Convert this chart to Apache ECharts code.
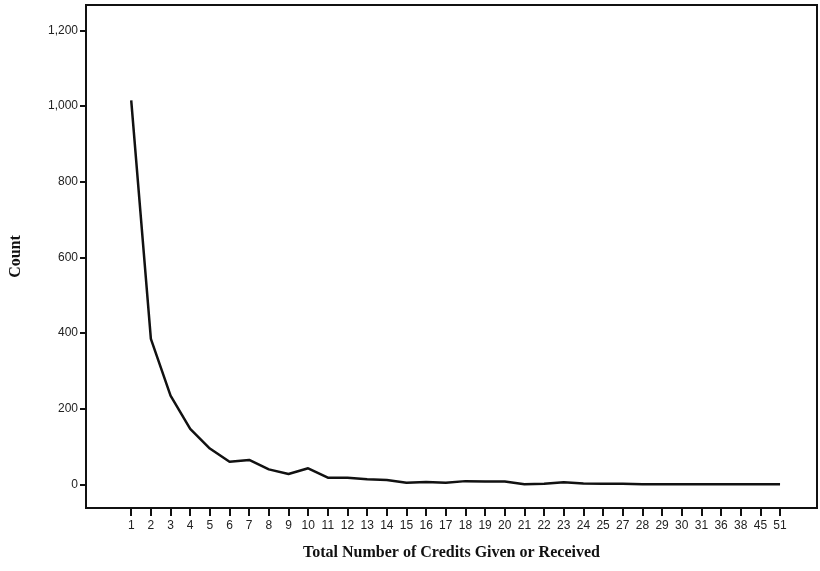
<!DOCTYPE html>
<html>
<head>
<meta charset="utf-8">
<script src="https://cdn.jsdelivr.net/npm/echarts@6/dist/echarts.min.js"></script>
<style>html,body{margin:0;padding:0;background:#fff;}#c{width:820px;height:571px;}</style>
</head>
<body>
<div id="c"></div>
<script>
var categories = ['1','2','3','4','5','6','7','8','9','10','11','12','13','14','15','16','17','18','19','20','21','22','23','24','25','27','28','29','30','31','36','38','45','51'];
var counts = [1015, 385, 235, 147, 95, 60, 65, 40, 28, 43, 18, 18, 14, 12, 5, 7, 5, 9, 8, 8, 1, 2, 6, 3, 2, 2, 1, 1, 1, 1, 1, 1, 1, 1];
var yTicks = [0, 200, 400, 600, 800, 1000, 1200];

var seriesData = counts.map(function (v, i) { return [i, v]; });
var xIdx = categories.map(function (c, i) { return i; });

var chart = echarts.init(document.getElementById('c'), null, {renderer: 'canvas'});
chart.setOption({
  animation: false,
  backgroundColor: '#fff',
  grid: {left: 85, right: 3, top: 5, bottom: 63, show: true, borderColor: '#111', borderWidth: 2, backgroundColor: 'transparent'},
  xAxis: {
    type: 'value', min: -2.3, max: 34.88,
    name: 'Total Number of Credits Given or Received', nameLocation: 'middle', nameGap: 37,
    nameTextStyle: {fontFamily: 'Liberation Serif', fontWeight: 'bold', fontSize: 16, color: '#111'},
    axisLine: {show: true, onZero: false, lineStyle: {color: '#111', width: 2}},
    axisTick: {show: true, customValues: xIdx, length: 8, lineStyle: {color: '#111', width: 2}},
    axisLabel: {customValues: xIdx, formatter: function (v) { return categories[Math.round(v)]; }, fontFamily: 'Liberation Sans', fontSize: 12, color: '#222', margin: 12},
    splitLine: {show: false}
  },
  yAxis: {
    type: 'value', min: -62, max: 1267,
    name: 'Count', nameLocation: 'middle', nameGap: 62, nameRotate: 90,
    nameTextStyle: {fontFamily: 'Liberation Serif', fontWeight: 'bold', fontSize: 16, color: '#111'},
    axisLine: {show: true, onZero: false, lineStyle: {color: '#111', width: 2}},
    axisTick: {show: true, customValues: yTicks, length: 6, lineStyle: {color: '#111', width: 2}},
    axisLabel: {customValues: yTicks, formatter: function (v) { return v.toLocaleString('en-US'); }, fontFamily: 'Liberation Sans', fontSize: 12, color: '#222', margin: 8},
    splitLine: {show: false}
  },
  series: [{
    type: 'line', data: seriesData, showSymbol: false, symbol: 'none',
    lineStyle: {color: '#111', width: 2.5}
  }]
});
</script>
</body>
</html>
